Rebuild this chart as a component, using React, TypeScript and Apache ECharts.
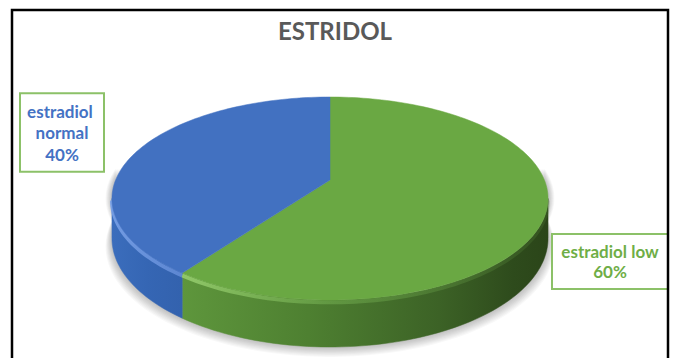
import React, { useEffect, useRef } from "react";
import * as echarts from "echarts";

const chartTitle = "ESTRIDOL";
const categories = ["estradiol low", "estradiol normal"];
const values = [60, 40];

// slice colours: top face, label text
const topColors = ["#6aa843", "#4271c1"];
const labelColors = ["#6fae47", "#4472c4"];

// label boxes: centre and content width
const labelCenters = [
  [610, 261.5],
  [62, 132.5],
];
const labelWidths = [108, 74];

// tilted pie with a little perspective
const CX = 330;
const AY = 180;
const K = 214.4;
const KS = 98.1;
const P = 0.182;
const DEPTH = 38.5;
const STEPS = 240;
const SHADOW_LAYERS = 9;

const total = values.reduce((s, v) => s + v, 0);
const SIDE_MIN = Math.acos(-P);
const SIDE_MAX = 2 * Math.PI - SIDE_MIN;
const PIE_LEFT = 112;
const PIE_RIGHT = 548;

function project(phi: number, drop = 0, grow = 0): number[] {
  const w = 1 + P * Math.cos(phi);
  return [
    CX + ((K + grow) * Math.sin(phi)) / w,
    AY - (KS * Math.cos(phi)) / w + drop / w,
  ];
}

function arc(a0: number, a1: number, drop = 0, grow = 0): number[][] {
  const pts: number[][] = [];
  const n = Math.max(2, Math.ceil((Math.abs(a1 - a0) / (2 * Math.PI)) * STEPS));
  for (let k = 0; k <= n; k++) pts.push(project(a0 + ((a1 - a0) * k) / n, drop, grow));
  return pts;
}

function sidePolygon(a0: number, a1: number): number[][] {
  return arc(a0, a1, 0).concat(arc(a1, a0, DEPTH));
}

function hGradient(stops: [number, string][]) {
  return {
    type: "linear",
    x: PIE_LEFT,
    y: 0,
    x2: PIE_RIGHT,
    y2: 0,
    global: true,
    colorStops: stops.map(([offset, color]) => ({ offset, color })),
  };
}

const sideFills = [
  hGradient([
    [0, "#5e963c"],
    [0.16, "#5e963c"],
    [0.45, "#4e8031"],
    [0.75, "#3c6226"],
    [0.92, "#2e4b1c"],
    [1, "#2b4519"],
  ]),
  hGradient([
    [0, "#3b6dbc"],
    [0.08, "#3566b4"],
    [0.16, "#3362ae"],
    [1, "#3362ae"],
  ]),
];

const rimStrokes = [
  hGradient([
    [0.16, "rgba(150,205,110,0.9)"],
    [0.5, "rgba(120,180,85,0.5)"],
    [1, "rgba(90,140,60,0.2)"],
  ]),
  hGradient([
    [0, "rgba(120,160,230,0.9)"],
    [0.16, "rgba(110,150,225,0.7)"],
  ]),
];

function renderSlice(params: any, api: any) {
  const i = params.dataIndex;
  let before = 0;
  for (let j = 0; j < i; j++) before += values[j];
  const a0 = (before / total) * 2 * Math.PI;
  const a1 = ((before + api.value(0)) / total) * 2 * Math.PI;

  const children: any[] = [];

  if (i === 0) {
    // soft shadow under the disc, built from stacked translucent layers
    for (let k = SHADOW_LAYERS; k >= 1; k--) {
      const pts = arc(SIDE_MIN - 0.3, SIDE_MAX + 0.3, 0, k * 0.7).concat(
        arc(SIDE_MAX + 0.3, SIDE_MIN - 0.3, DEPTH + k * 0.9, k * 0.7)
      );
      children.push({
        type: "polygon",
        z2: 0,
        shape: { points: pts },
        style: { fill: "rgba(0,0,0,0.028)" },
      });
    }
  }

  const s0 = Math.max(a0, SIDE_MIN);
  const s1 = Math.min(a1, SIDE_MAX);
  if (s1 > s0) {
    children.push({
      type: "polygon",
      z2: 2,
      shape: { points: sidePolygon(s0, s1) },
      style: { fill: sideFills[i], stroke: sideFills[i], lineWidth: 0.5 },
    });
    children.push({
      type: "polyline",
      z2: 3,
      shape: { points: arc(s0, s1, 2) },
      style: { fill: "none", stroke: rimStrokes[i], lineWidth: 4 },
    });
  }

  children.push({
    type: "polygon",
    z2: 4,
    shape: { points: [[CX, AY]].concat(arc(a0, a1, 0)) },
    style: { fill: topColors[i], stroke: topColors[i], lineWidth: 0.5 },
  });

  const [lx, ly] = labelCenters[i];
  children.push({
    type: "text",
    z2: 6,
    x: lx,
    y: ly,
    style: {
      text: `${categories[i]}\n${api.value(0)}%`,
      width: labelWidths[i],
      overflow: "break",
      align: "center",
      verticalAlign: "middle",
      fill: labelColors[i],
      font: "bold 17px Lato, 'Open Sans', sans-serif",
      lineHeight: i === 0 ? 20 : 21.5,
      backgroundColor: "#ffffff",
      borderColor: "#8cc168",
      borderWidth: 2,
      padding: i === 0 ? [6.5, 3] : [6, 4],
    },
  });

  return { type: "group", children };
}

export default function App() {
  const ref = useRef<HTMLDivElement>(null);

  useEffect(() => {
    if (!ref.current) return;
    const chart = echarts.init(ref.current, undefined, { renderer: "svg" });
    chart.setOption({
      animation: false,
      backgroundColor: "#ffffff",
      title: {
        text: chartTitle,
        left: 330,
        top: 13,
        textAlign: "center",
        textStyle: {
          fontFamily: "Lato, 'Open Sans', sans-serif",
          fontWeight: "bold",
          fontSize: 24,
          color: "#595959",
        },
      },
      graphic: [
        {
          type: "rect",
          z: 10,
          shape: { x: 12, y: 10, width: 656, height: 360 },
          style: { fill: "none", stroke: "#000000", lineWidth: 2.5 },
        },
      ],
      series: [
        {
          type: "custom",
          coordinateSystem: "none",
          renderItem: renderSlice,
          data: values.map((v, i) => ({ name: categories[i], value: [v] })),
        },
      ],
    });
    return () => chart.dispose();
  }, []);

  return (
    <div
      ref={ref}
      style={{ position: "fixed", left: 0, top: 0, width: 673, height: 358 }}
    />
  );
}
